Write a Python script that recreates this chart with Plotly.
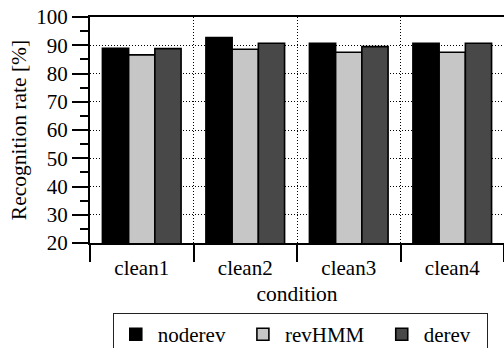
import plotly.graph_objects as go

conditions = ["clean1", "clean2", "clean3", "clean4"]
noderev = [88.9, 92.7, 90.7, 90.7]
rev_hmm = [86.6, 88.6, 87.5, 87.5]
derev = [88.8, 90.7, 89.5, 90.7]

series = [
    ("noderev", noderev, "#000000"),
    ("revHMM", rev_hmm, "#c6c6c6"),
    ("derev", derev, "#484848"),
]

FONT = "Liberation Serif"
TICK_SIZE = 21
TITLE_SIZE = 21.5
# trailing non-breaking spaces widen each legend entry
PAD = "\u00a0\u00a0"

fig = go.Figure()
for name, vals, color in series:
    fig.add_trace(go.Bar(
        x=conditions, y=vals, name=name + PAD,
        marker=dict(color=color, line=dict(color="#000000", width=1.6)),
    ))

fig.update_layout(
    width=504, height=348,
    margin=dict(l=90, r=0, t=17, b=105, autoexpand=False),
    paper_bgcolor="white", plot_bgcolor="white",
    font=dict(family=FONT, size=TICK_SIZE, color="black"),
    barmode="group", bargap=0.24, bargroupgap=0,
    showlegend=True,
    legend=dict(
        orientation="h", x=0.055, y=-0.31, xanchor="left", yanchor="top",
        bordercolor="#222222", borderwidth=1, itemwidth=34,
        font=dict(family=FONT, size=TICK_SIZE, color="black"),
    ),
)

fig.update_xaxes(
    type="category", tickson="boundaries",
    ticks="outside", ticklen=17, tickwidth=1.5, tickcolor="black",
    showline=True, linewidth=2, linecolor="black", mirror=True,
    showgrid=True, gridcolor="black", gridwidth=1, griddash="1px,2px",
    ticklabelstandoff=5,
    title=dict(text="condition", standoff=7, font=dict(family=FONT, size=TITLE_SIZE)),
    tickfont=dict(family=FONT, size=TICK_SIZE),
)

fig.update_yaxes(
    range=[20, 100], dtick=10, tick0=20,
    ticks="outside", ticklen=16, tickwidth=1.5, tickcolor="black",
    minor=dict(dtick=5, ticks="outside", ticklen=8, tickwidth=1.5, tickcolor="black", showgrid=False),
    showline=True, linewidth=2, linecolor="black",
    showgrid=True, gridcolor="black", gridwidth=1, griddash="1px,2px",
    zeroline=False,
    title=dict(text="Recognition rate [%]", standoff=4, font=dict(family=FONT, size=TITLE_SIZE)),
    tickfont=dict(family=FONT, size=TICK_SIZE),
)

fig.write_html("out.html")
